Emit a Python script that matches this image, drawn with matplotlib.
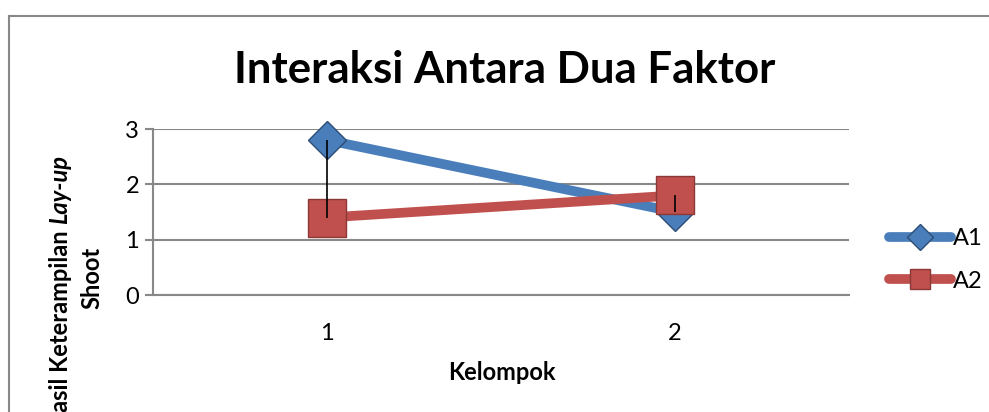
import matplotlib
matplotlib.use("Agg")
import matplotlib.pyplot as plt
from matplotlib.lines import Line2D

# data
kelompok = ["1", "2"]
a1 = [2.8, 1.5]
a2 = [1.4, 1.8]
yticks = [0, 1, 2, 3]

blue = "#4a7ebb"
blue_edge = "#2c4d75"
red = "#c0504d"
red_edge = "#8c3836"
grid_col = "#888888"

plt.rcParams["font.family"] = ["Lato", "DejaVu Sans"]

fig = plt.figure(figsize=(9.89, 4.12), dpi=100)
ax = fig.add_axes([153 / 989, 1 - 295 / 412, 696 / 989, 166 / 412])

x = list(range(len(kelompok)))

# series lines with markers
ax.plot(x, a1, color=blue, lw=7, marker="D", ms=19, mfc=blue, mec=blue_edge,
        mew=1, solid_capstyle="round", zorder=3, clip_on=False)
ax.plot(x, a2, color=red, lw=7, marker="s", ms=27, mfc=red, mec=red_edge,
        mew=1, solid_capstyle="round", zorder=4, clip_on=False)

# high-low lines
ax.vlines(x, a2, a1, color="black", lw=1.2, zorder=5)

ax.set_xlim(-0.5, len(kelompok) - 0.5)
ax.set_ylim(0, 3)
ax.set_xticks(x)
ax.set_xticklabels(kelompok, fontsize=17)
ax.set_yticks(yticks)
ax.set_yticklabels([str(v) for v in yticks], fontsize=17)
ax.tick_params(axis="x", length=0, pad=20)
ax.tick_params(axis="y", length=6, color=grid_col, width=1.5, pad=4)

ax.grid(axis="y", color=grid_col, lw=1.5)
ax.set_axisbelow(True)
for s in ["top", "right"]:
    ax.spines[s].set_visible(False)
ax.spines["left"].set_color(grid_col)
ax.spines["left"].set_linewidth(1.5)
ax.spines["bottom"].set_color(grid_col)
ax.spines["bottom"].set_linewidth(1.5)

# title and axis labels
fig.text(505 / 989, 1 - 70 / 412, "Interaksi Antara Dua Faktor", fontsize=31.5,
         fontweight="bold", ha="center", va="center")
fig.text(502 / 989, 1 - 372 / 412, "Kelompok", fontsize=17, fontweight="bold",
         ha="center", va="center")

# y label, second word italic, drawn in two pieces
t1 = fig.text(60 / 989, 1 - 430 / 412, "Hasil Keterampilan", fontsize=17,
              fontweight="bold", rotation=90, ha="left", va="center",
              rotation_mode="anchor")
fig.canvas.draw()
h = t1.get_window_extent().height
fig.text(60 / 989, 1 - (430 - h - 6) / 412, "Lay-up", fontsize=17,
         fontweight="bold", style="italic", rotation=90, ha="left",
         va="center", rotation_mode="anchor")
fig.text(92 / 989, 1 - 278 / 412, "Shoot", fontsize=17, fontweight="bold",
         rotation=90, ha="center", va="center")

# legend
handles = [
    Line2D([], [], color=blue, lw=7, marker="D", ms=13, mfc=blue,
           mec=blue_edge, solid_capstyle="round"),
    Line2D([], [], color=red, lw=7, marker="s", ms=15, mfc=red,
           mec=red_edge, solid_capstyle="round"),
]
fig.legend(handles, ["A1", "A2"], loc="center left",
           bbox_to_anchor=(868 / 989, 1 - 260 / 412), frameon=False,
           fontsize=17, handlelength=2.6, handletextpad=0.1,
           labelspacing=0.9)

# chart area border (top and left visible)
fig.add_artist(Line2D([9 / 989, 9 / 989], [0, 1 - 16 / 412],
                      transform=fig.transFigure, color=grid_col, lw=1.5))
fig.add_artist(Line2D([9 / 989, 1], [1 - 16 / 412, 1 - 16 / 412],
                      transform=fig.transFigure, color=grid_col, lw=1.5))

fig.savefig("out.png", dpi=100)
